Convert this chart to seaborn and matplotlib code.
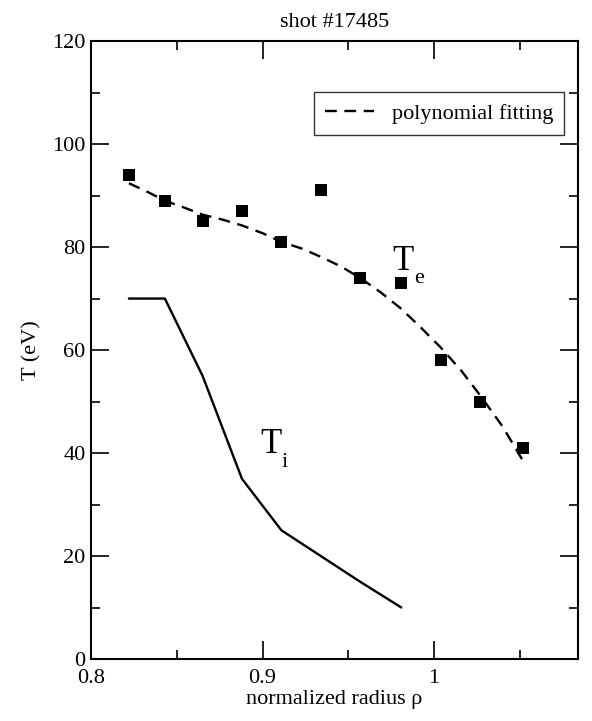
import numpy as np
import pandas as pd
import seaborn as sns
import matplotlib.pyplot as plt
from matplotlib.ticker import MultipleLocator

# measured electron temperature (squares)
rho_te = [0.822, 0.843, 0.865, 0.888, 0.911, 0.934, 0.957, 0.981, 1.004, 1.027, 1.052]
te_vals = [94, 89, 85, 87, 81, 91, 74, 73, 58, 50, 41]

# polynomial fitting curve
rho_fit = [0.822, 0.833, 0.843, 0.854, 0.865, 0.877, 0.888, 0.900, 0.911, 0.923, 0.934,
           0.946, 0.957, 0.969, 0.981, 0.992, 1.004, 1.016, 1.027, 1.040, 1.052]
fit_vals = [92.4, 90.7, 89.0, 87.7, 86.3, 85.3, 84.2, 82.7, 81.0, 79.7, 78.1,
            76.2, 74.0, 71.2, 68.0, 64.5, 60.5, 56.0, 51.2, 45.2, 38.5]

# ion temperature (solid line)
rho_ti = [0.822, 0.843, 0.865, 0.888, 0.911, 0.934, 0.957, 0.981]
ti_vals = [70, 70, 55, 35, 25, 20, 15, 10]

te_df = pd.DataFrame({"rho": rho_te, "T": te_vals})
fit_df = pd.DataFrame({"rho": rho_fit, "T": fit_vals})
ti_df = pd.DataFrame({"rho": rho_ti, "T": ti_vals})

sns.set_style("ticks", {"text.color": "black", "axes.labelcolor": "black",
                        "xtick.color": "black", "ytick.color": "black",
                        "axes.edgecolor": "black"})
plt.rcParams['font.family'] = ['Liberation Serif', 'DejaVu Serif']

fig, ax = plt.subplots(figsize=(5.92, 7.21), dpi=100)
fig.subplots_adjust(left=0.154, right=0.976, top=0.943, bottom=0.086)

sns.lineplot(data=fit_df, x="rho", y="T", ax=ax, color="black", lw=1.7,
             linestyle=(0, (5, 3.2)), label="polynomial fitting")
sns.lineplot(data=ti_df, x="rho", y="T", ax=ax, color="black", lw=1.7, label="_nolegend_")
sns.scatterplot(data=te_df, x="rho", y="T", ax=ax, marker="s", s=85, color="black",
                edgecolor="black", linewidth=0, label="_nolegend_", zorder=3)

ax.set_xlim(0.8, 1.084)
ax.set_ylim(0, 120)
ax.xaxis.set_minor_locator(MultipleLocator(0.05))
ax.yaxis.set_major_locator(MultipleLocator(20))
ax.yaxis.set_minor_locator(MultipleLocator(10))
ax.set_xticks([0.8, 0.9, 1.0])
ax.set_xticklabels(["0.8", "0.9", "1"])

ax.tick_params(which="both", direction="in", top=True, right=True, labelsize=16,
               width=1.2, pad=4, colors="black")
ax.tick_params(axis="x", which="both", pad=7)
ax.tick_params(which="major", length=13)
ax.tick_params(which="minor", length=6.5)
for sp in ax.spines.values():
    sp.set_linewidth(1.5)

ax.set_xlabel("normalized radius ρ", fontsize=16, labelpad=2, color="black")
ax.set_ylabel("T (eV)", fontsize=16, labelpad=8, color="black")
ax.set_title("shot #17485", fontsize=16, pad=10, color="black")

ax.text(0.976, 75.5, "T", fontsize=25, ha="left", va="baseline")
ax.text(0.9885, 73.0, "e", fontsize=16, ha="left", va="baseline")
ax.text(0.8985, 40.0, "T", fontsize=25, ha="left", va="baseline")
ax.text(0.9112, 37.3, "i", fontsize=16, ha="left", va="baseline")

leg = ax.legend(loc="upper right", fontsize=16, frameon=True, fancybox=False,
                edgecolor="black", handlelength=2.2, borderpad=0.5,
                bbox_to_anchor=(0.995, 0.935))
leg.get_frame().set_linewidth(1.0)
for t in leg.get_texts():
    t.set_color("black")

plt.savefig("out.png", dpi=100)
